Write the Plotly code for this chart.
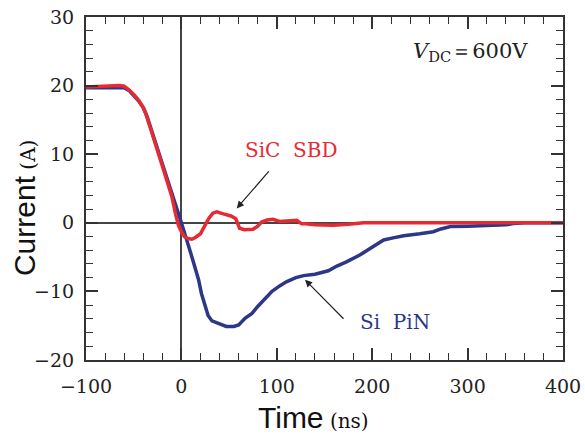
import plotly.graph_objects as go

# Si PiN diode (blue)
t_pin = [-100, -60, -55, -50, -45, -40, -36, -20, -10, 0, 10, 18, 21, 25, 28, 32, 40, 47, 55, 60,
         67, 74, 80, 88, 95, 103, 110, 120, 128, 140, 154, 163, 173, 187, 200, 212, 222, 233, 250,
         264, 272, 282, 300, 327, 340, 348, 360, 400]
i_pin = [19.7, 19.7, 19.3, 18.6, 17.8, 16.8, 15.5, 8.6, 4.4, 0.0, -4.5, -8.3, -10.3, -12.0, -13.5,
         -14.3, -14.8, -15.1, -15.1, -14.9, -13.9, -13.2, -12.2, -11.0, -10.0, -9.2, -8.6, -8.0,
         -7.7, -7.5, -7.0, -6.3, -5.7, -4.7, -3.5, -2.5, -2.2, -1.9, -1.6, -1.3, -0.9, -0.55, -0.5,
         -0.45, -0.3, -0.1, 0.0, 0.0]

# SiC SBD (red)
t_sbd = [-100, -65, -60, -55, -50, -45, -40, -37, -20, -15, -10, -6, -3, 0, 3, 7, 11, 15, 20, 25,
         29, 33, 37, 44, 52, 57, 61, 66, 75, 80, 84, 90, 96, 103, 110, 121, 126, 130, 140, 159,
         175, 191, 250, 400]
i_sbd = [19.8, 20.0, 19.9, 19.4, 18.7, 17.9, 16.8, 15.8, 8.3, 6.2, 3.8, 1.2, -0.4, -1.3, -2.0,
         -2.3, -2.4, -2.1, -1.6, -0.3, 0.7, 1.4, 1.6, 1.3, 1.0, 0.6, -0.8, -1.0, -0.95, -0.5, 0.1,
         0.4, 0.5, 0.2, 0.3, 0.35, -0.15, -0.15, -0.3, -0.35, -0.2, 0.0, 0.0, 0.0]

x_ticks = [-100, 0, 100, 200, 300, 400]
y_ticks = [-20, -10, 0, 10, 20, 30]

RED = "#e62a33"
BLUE = "#2d3788"
SERIF = "DejaVu Serif"

fig = go.Figure()
fig.add_trace(go.Scatter(x=t_pin, y=i_pin, mode="lines", line=dict(color=BLUE, width=3.5),
                         showlegend=False))
fig.add_trace(go.Scatter(x=t_sbd, y=i_sbd, mode="lines", line=dict(color=RED, width=3.5),
                         showlegend=False))

axis_common = dict(
    showline=True, linecolor="#333", linewidth=2, mirror="allticks",
    ticks="inside", ticklen=12, tickwidth=1.5, tickcolor="#333",
    showgrid=False, zeroline=True, zerolinecolor="#444", zerolinewidth=1.5,
    tickfont=dict(family=SERIF, size=19, color="#222"), automargin=False,
)

fig.update_layout(
    width=585, height=437,
    margin=dict(l=86, r=22, t=17, b=77),
    plot_bgcolor="white", paper_bgcolor="white",
    xaxis=dict(range=[-100, 400], tickvals=x_ticks,
               minor=dict(dtick=20, ticks="inside", ticklen=7, tickwidth=1.2, tickcolor="#333"),
               ticklabelstandoff=8, **axis_common),
    yaxis=dict(range=[-20, 30], tickvals=y_ticks,
               minor=dict(dtick=2, ticks="inside", ticklen=7, tickwidth=1.2, tickcolor="#333"),
               ticklabelstandoff=6, **axis_common),
)

annotations = [
    dict(x=0.476, y=-0.169, xref="paper", yref="paper", showarrow=False,
         xanchor="center", yanchor="middle",
         text="<span style='font-family:Liberation Sans'>Time</span>"
              "<span style='font-family:DejaVu Serif;font-size:20px'> (ns)</span>",
         font=dict(size=30, color="#111", family="Liberation Sans")),
    dict(x=-0.13, y=0.443, xref="paper", yref="paper", showarrow=False, textangle=-90,
         xanchor="center", yanchor="middle",
         text="<span style='font-family:Liberation Sans'>Current</span>"
              "<span style='font-family:DejaVu Serif;font-size:20px'> (A)</span>",
         font=dict(size=30, color="#111", family="Liberation Sans")),
    dict(x=303, y=24.9, xref="x", yref="y", showarrow=False,
         text="<i>V</i><sub>DC</sub>＝600V",
         font=dict(size=21, color="#222", family=SERIF)),
    dict(x=115, y=10.6, xref="x", yref="y", showarrow=False, text="SiC  SBD",
         font=dict(size=20, color=RED, family=SERIF)),
    dict(x=224, y=-14.5, xref="x", yref="y", showarrow=False, text="Si  PiN",
         font=dict(size=20, color=BLUE, family=SERIF)),
    dict(x=58, y=2.1, ax=92.9, ay=7.7, xref="x", yref="y", axref="x", ayref="y",
         showarrow=True, arrowhead=2, arrowsize=1.2, arrowwidth=1.2, arrowcolor="#222", text=""),
    dict(x=129.6, y=-8.3, ax=171.5, ay=-14.2, xref="x", yref="y", axref="x", ayref="y",
         showarrow=True, arrowhead=2, arrowsize=1.2, arrowwidth=1.2, arrowcolor="#222", text=""),
]
fig.update_layout(annotations=annotations)

fig.write_html("out.html")
